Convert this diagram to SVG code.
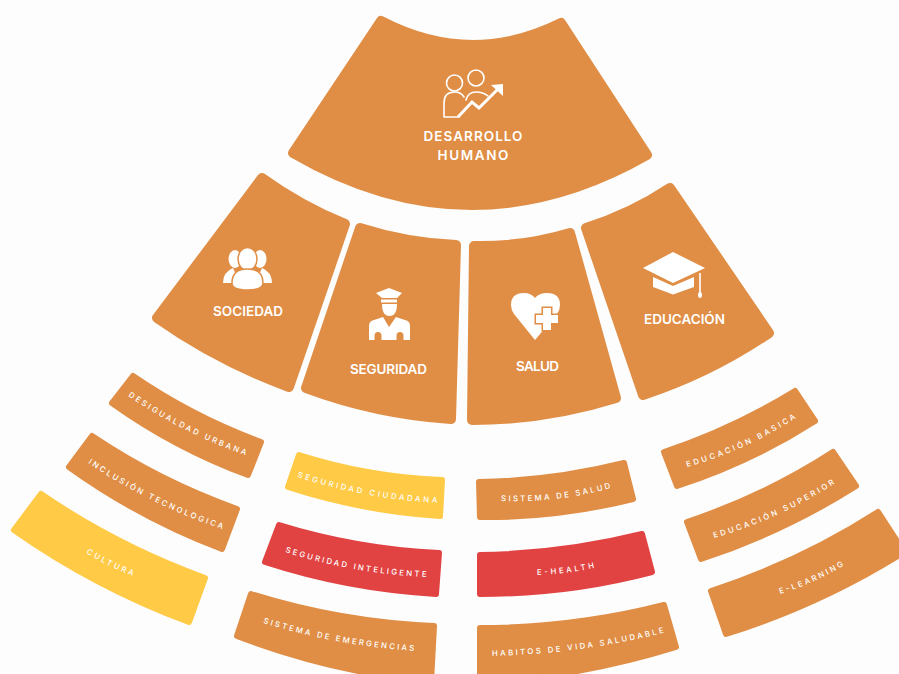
<svg xmlns="http://www.w3.org/2000/svg" width="899" height="674" viewBox="0 0 899 674">
<style>
.big{fill:#e08e45;stroke:#e08e45;stroke-width:10;stroke-linejoin:round}
.sm{stroke-width:6;stroke-linejoin:round}
.o{fill:#e08e45;stroke:#e08e45}
.y{fill:#ffca45;stroke:#ffca45}
.r{fill:#e14242;stroke:#e14242}
text{font-family:Inter,"Liberation Sans",sans-serif;fill:#fff}
.t{font-size:13.5px;font-weight:600;text-anchor:middle}
.l{font-size:7.8px;font-weight:500}
.w{fill:#fff;stroke:none}
.ln{fill:none;stroke:#fff;stroke-width:1.6;stroke-linejoin:round;stroke-linecap:round}
.ar{fill:none;stroke:#fff;stroke-width:3;stroke-linejoin:miter}
</style>
<defs>
<path id="p1" d="M128,396Q184,434 248,456"/>
<path id="p2" d="M88,463Q152,506 225,530"/>
<path id="p3" d="M86,553Q109,567 133,576"/>
<path id="p4" d="M297,477Q365,499 438,503"/>
<path id="p5" d="M285,552Q354,574 427,577"/>
<path id="p6" d="M263,623Q338,646 416,651"/>
<path id="p7" d="M501,501Q557,503 611,488"/>
<path id="p8" d="M537,575Q566,574 594,568"/>
<path id="p9" d="M492,656Q579,654 663,633"/>
<path id="p10" d="M687,467Q745,451 796,418"/>
<path id="p11" d="M714,538Q778,520 834,484"/>
<path id="p12" d="M780,594Q813,584 843,566"/>
</defs>
<rect width="899" height="674" fill="#fdfdfd"/>
<g id="connectors"/>
<g id="desarrollo-humano">
<path class="big" d="M381,21Q471,68 561,23L647,155Q470,256 293,153Z"/>
<circle class="ln" cx="454.500" cy="83" r="8"/>
<circle class="ln" cx="476" cy="78" r="8"/>
<path class="ln" d="M459,117H444V103Q444,92 454.500,92Q461,92 464,97"/>
<path class="ln" d="M466,100Q468,92 476,92Q483,92 488,96"/>
<path class="ar" d="M458,117L472,102L479,108L498,89"/>
<path class="w" d="M491,85L503,84L503,96Z"/>
<text class="t" x="473" y="140.500" textLength="99" lengthAdjust="spacing">DESARROLLO</text>
<text class="t" x="473" y="159.500" textLength="71" lengthAdjust="spacing">HUMANO</text>
</g>
<g id="sociedad">
<path class="big" d="M262,178Q301,206 345,224L289,387Q218,361 157,318Z"/>
<ellipse class="w" cx="235" cy="259" rx="6.500" ry="9"/>
<ellipse class="w" cx="260" cy="259" rx="6.500" ry="9"/>
<path class="w" d="M223,283Q223,272 233,268L240,283Z"/>
<path class="w" d="M272,283Q272,272 262,268L255,283Z"/>
<ellipse cx="247.500" cy="259" rx="9.500" ry="11.500" fill="#fff" stroke="#e08e45" stroke-width="1.500"/>
<path d="M232,283Q232,269 247.500,269Q263,269 263,283Q263,290 247.500,290Q232,290 232,283Z" fill="#fff" stroke="#e08e45" stroke-width="1.500"/>
<text class="t" x="248" y="316" textLength="70" lengthAdjust="spacing">SOCIEDAD</text>
</g>
<g id="seguridad">
<path class="big" d="M360,228Q407,243 456,245L451,419Q376,414 306,388Z"/>
<path class="w" d="M376,293L389,288L402,293L397,298H382Z"/>
<rect class="w" x="381" y="299.500" width="16" height="3"/>
<path class="w" d="M382,304H397Q397,316 389.500,316Q382,316 382,304Z"/>
<path class="w" d="M369,340V326Q369,321 374,320L383,317L389,327L396,317L405,320Q410,321 410,326V340H403.500V336Q403.500,332 400,332Q396.500,332 396.500,336V340H381.500V336Q381.500,332 378,332Q374.500,332 374.500,336V340Z"/>
<text class="t" x="388.500" y="374" textLength="77" lengthAdjust="spacing">SEGURIDAD</text>
</g>
<g id="salud">
<path class="big" d="M474,246Q523,247 570,233L616,398Q546,420 472,420Z"/>
<path class="w" d="M535,340L514,314Q511,310 511,305Q511,293 524,293Q531,293 535,298Q539,293 547,293Q560,293 560,305Q560,310 557,314Z"/>
<path d="M543,308H551V315H558V323H551V330H543V323H536V315H543Z" fill="#fff" stroke="#e08e45" stroke-width="3" paint-order="stroke"/>
<text class="t" x="537.500" y="370.500" textLength="43" lengthAdjust="spacing">SALUD</text>
</g>
<g id="educacion">
<path class="big" d="M586,228Q631,214 670,188L769,333Q710,373 643,395Z"/>
<path class="w" d="M643,268L673,252L705,268L673,283Z"/>
<path class="w" d="M653,277L673,286L694,277V287L673,294.500L653,287Z"/>
<rect class="w" x="699.200" y="273" width="1.600" height="20"/>
<ellipse class="w" cx="700" cy="295" rx="2" ry="3"/>
<text class="t" x="684.500" y="324" textLength="81" lengthAdjust="spacing">EDUCACIÓN</text>
</g>
<g id="desigualdad-urbana"><path class="sm o" d="M133,376Q193,417 261,442L248,475Q175,448 112,403Z"/><text class="l"><textPath href="#p1" textLength="132" lengthAdjust="spacing">DESIGUALDAD URBANA</textPath></text></g>
<g id="inclusion-tecnologica"><path class="sm o" d="M92,436Q159,481 237,509L222,549Q140,518 69,467Z"/><text class="l"><textPath href="#p2" textLength="150" lengthAdjust="spacing">INCLUSIÓN TECNOLOGICA</textPath></text></g>
<g id="cultura"><path class="sm y" d="M41,494Q117,546 205,578L189,622Q95,587 14,530Z"/><text class="l"><textPath href="#p3" textLength="52" lengthAdjust="spacing">CULTURA</textPath></text></g>
<g id="seguridad-ciudadana"><path class="sm y" d="M299,455Q368,477 442,480L440,516Q362,511 288,487Z"/><text class="l"><textPath href="#p4" textLength="143" lengthAdjust="spacing">SEGURIDAD CIUDADANA</textPath></text></g>
<g id="seguridad-inteligente"><path class="sm r" d="M279,525Q357,549 439,553L436,594Q348,589 265,562Z"/><text class="l"><textPath href="#p5" textLength="144" lengthAdjust="spacing">SEGURIDAD INTELIGENTE</textPath></text></g>
<g id="sistema-emergencias"><path class="sm o" d="M251,594Q340,622 434,626L431,682Q332,672 237,636Z"/><text class="l"><textPath href="#p6" textLength="154" lengthAdjust="spacing">SISTEMA DE EMERGENCIAS</textPath></text></g>
<g id="sistema-salud"><path class="sm o" d="M479,482Q552,481 624,463L633,499Q557,518 480,517Z"/><text class="l"><textPath href="#p7" textLength="111" lengthAdjust="spacing">SISTEMA DE SALUD</textPath></text></g>
<g id="e-health"><path class="sm r" d="M480,555Q562,554 642,534L652,572Q568,594 480,594Z"/><text class="l"><textPath href="#p8" textLength="58" lengthAdjust="spacing">E-HEALTH</textPath></text></g>
<g id="habitos"><path class="sm o" d="M480,628Q574,628 664,605L676,647Q580,677 480,682Z"/><text class="l"><textPath href="#p9" textLength="174" lengthAdjust="spacing">HABITOS DE VIDA SALUDABLE</textPath></text></g>
<g id="educacion-basica"><path class="sm o" d="M664,452Q733,429 795,391L815,421Q751,462 677,486Z"/><text class="l"><textPath href="#p10" textLength="120" lengthAdjust="spacing">EDUCACIÓN BASICA</textPath></text></g>
<g id="educacion-superior"><path class="sm o" d="M687,522Q765,496 833,452L856,486Q783,532 701,559Z"/><text class="l"><textPath href="#p11" textLength="133" lengthAdjust="spacing">EDUCACIÓN SUPERIOR</textPath></text></g>
<g id="e-learning"><path class="sm o" d="M711,591Q800,562 878,512L904,552Q821,604 726,634Z"/><text class="l"><textPath href="#p12" textLength="70" lengthAdjust="spacing">E-LEARNING</textPath></text></g>
</svg>
